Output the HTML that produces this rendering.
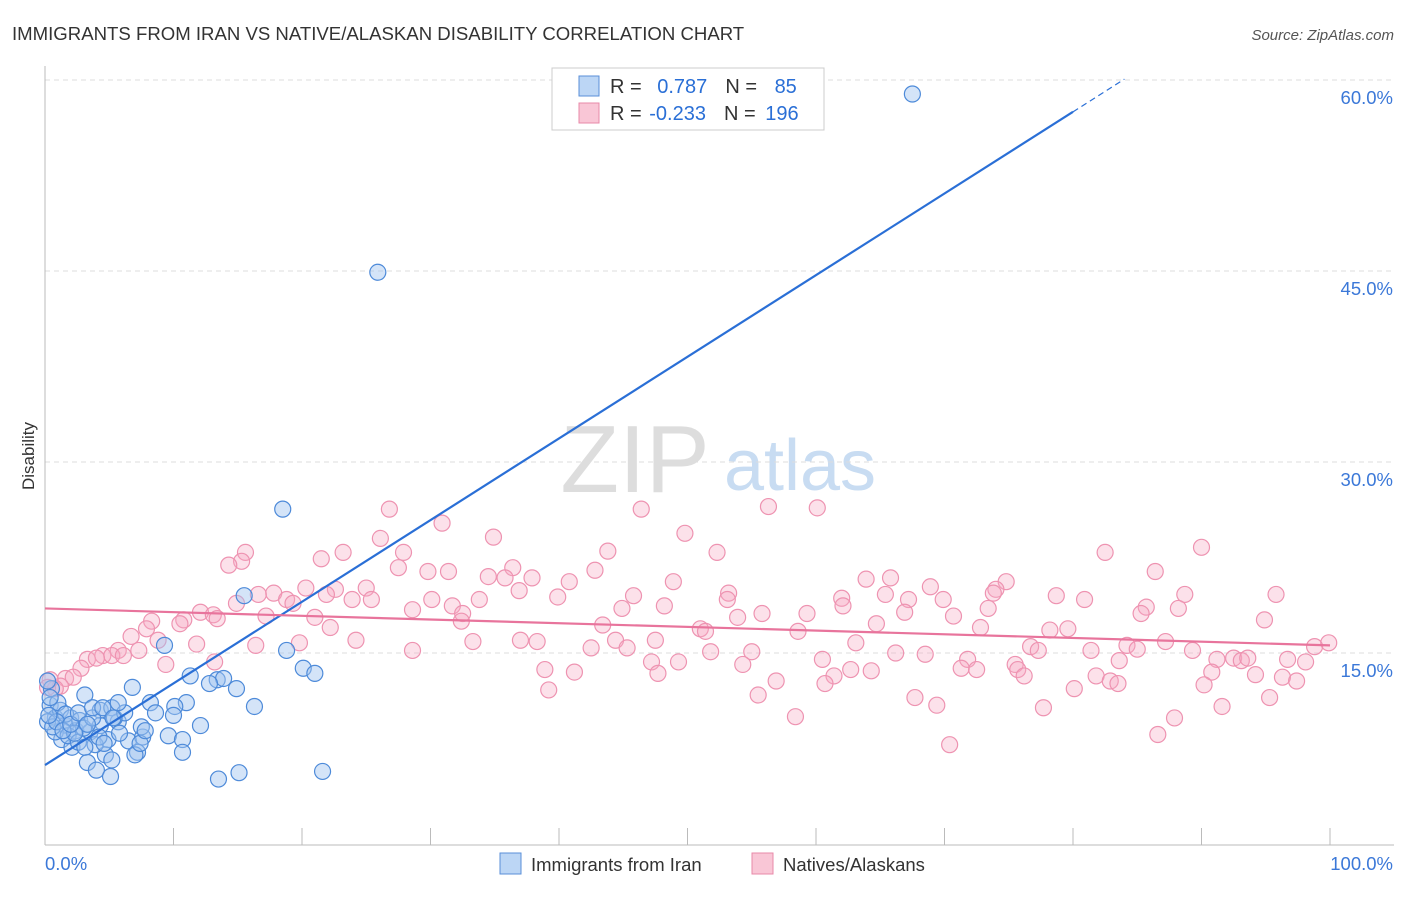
<!DOCTYPE html>
<html><head><meta charset="utf-8"><style>
body{margin:0;background:#fff;font-family:"Liberation Sans",sans-serif;}
svg text{font-family:"Liberation Sans",sans-serif;}
</style></head><body>
<svg id="chart" width="1406" height="892" xmlns="http://www.w3.org/2000/svg">
<text x="12" y="40" font-size="18.6" fill="#333">IMMIGRANTS FROM IRAN VS NATIVE/ALASKAN DISABILITY CORRELATION CHART</text>
<text x="1394" y="40" font-size="15" fill="#555" font-style="italic" text-anchor="end">Source: ZipAtlas.com</text>
<text transform="translate(34,456) rotate(-90)" font-size="17" fill="#333" text-anchor="middle">Disability</text>
<g><text x="635" y="492" font-size="96" fill="#ddd" font-family="Liberation Serif,serif" text-anchor="middle">ZIP</text><text x="800" y="490" font-size="72" fill="#c8dcf2" text-anchor="middle">atlas</text></g>
<g id="grid"></g><g id="axes"></g><g id="pink"></g><g id="blue"></g><g id="lines"></g>
<g>
<rect x="552" y="68" width="272" height="62" fill="#fff" stroke="#ccc"/>
<rect x="579" y="76" width="20" height="20" fill="#bcd6f5" stroke="#5a8fd8"/>
<rect x="579" y="103" width="20" height="20" fill="#f9c6d6" stroke="#e889a8"/>
<text x="610" y="93" font-size="20" fill="#333">R = <tspan fill="#2a6fd6" dx="10">0.787</tspan><tspan dx="18" fill="#333">N = </tspan><tspan fill="#2a6fd6" dx="12">85</tspan></text>
<text x="610" y="120" font-size="20" fill="#333">R = <tspan fill="#2a6fd6" dx="2">-0.233</tspan><tspan dx="18" fill="#333">N = </tspan><tspan fill="#2a6fd6" dx="4">196</tspan></text>
</g>
<g>
<rect x="500" y="853" width="21" height="21" fill="#bcd6f5" stroke="#5a8fd8"/>
<text x="531" y="871" font-size="18.5" fill="#333">Immigrants from Iran</text>
<rect x="752" y="853" width="21" height="21" fill="#f9c6d6" stroke="#e889a8"/>
<text x="783" y="871" font-size="18.5" fill="#333">Natives/Alaskans</text>
</g>
</svg>
<script>
const yTicks=[15,30,45,60];
const yTickLabels=["15.0%","30.0%","45.0%","60.0%"];
const xTickLabels=["0.0%","100.0%"];
const blueX=[67.5,25.9,18.5,15.5,9.3,18.8,20.1,21.0,6.8,11.3,13.4,13.9,14.9,12.8,8.2,11.0,16.3,10.1,8.6,10.0,12.1,3.1,4.3,5.2,5.7,6.5,7.6,7.5,9.6,10.7,10.7,7.2,7.0,4.9,4.7,3.3,4.0,5.2,5.1,13.5,15.1,21.6,0.4,0.8,1.2,1.6,2.0,2.4,2.7,3.5,3.9,1.3,2.1,4.3,0.8,0.2,0.5,0.2,1.0,1.8,2.6,3.0,3.7,4.2,4.6,5.4,5.8,6.2,7.4,7.8,3.1,2.3,1.6,0.6,0.9,1.4,2.0,2.6,3.3,3.7,4.5,5.3,5.7,0.3,0.4];
const blueY=[58.9,44.9,26.3,19.5,15.6,15.2,13.8,13.4,12.3,13.2,12.9,13.0,12.2,12.6,11.1,11.1,10.8,10.8,10.3,10.1,9.3,11.7,10.5,10.7,9.6,8.1,8.4,9.2,8.5,8.2,7.2,7.2,7.0,8.2,7.0,6.4,5.8,6.6,5.3,5.1,5.6,5.7,10.9,9.9,10.5,9.3,9.9,8.9,9.7,8.8,7.8,8.2,7.6,9.3,8.8,9.6,12.2,12.8,11.1,8.5,8.0,9.1,9.9,8.4,7.9,9.9,8.7,10.3,7.9,8.9,7.6,8.7,10.2,9.2,9.6,8.9,9.4,10.3,9.4,10.7,10.7,9.9,11.1,10.1,11.5];
const pinkX=[26.8,46.4,56.3,60.1,30.9,49.8,34.9,26.1,90.0,82.5,15.6,23.2,27.9,43.8,52.3,21.5,15.3,14.3,36.4,27.5,29.8,31.4,42.8,86.4,34.5,35.8,37.9,63.9,65.8,74.8,40.8,48.9,68.9,74.0,20.3,22.6,25.0,17.8,16.6,21.9,36.9,53.2,73.8,65.4,88.7,95.8,78.7,80.9,39.9,45.8,53.1,62.0,67.2,69.9,18.8,23.9,25.4,30.1,14.9,19.3,33.8,31.7,48.2,62.1,88.2,85.7,73.4,12.1,13.1,28.6,44.9,85.3,66.9,55.8,59.3,32.5,10.8,13.4,17.2,21.0,53.9,70.7,8.3,32.4,94.9,10.5,7.9,22.2,43.4,64.7,72.8,51.0,51.4,58.6,78.2,79.6,6.7,8.8,24.2,33.3,37.0,38.3,44.4,47.5,63.1,76.7,84.2,87.2,99.9,98.8,5.7,11.8,16.4,19.8,28.6,42.5,45.3,51.8,55.0,66.2,68.5,77.3,81.4,85.0,89.3,4.5,5.2,6.1,7.3,3.3,4.0,91.2,92.5,93.1,93.6,96.7,98.1,9.4,13.2,47.2,49.3,54.3,60.5,71.8,75.5,83.6,2.8,38.9,41.2,47.7,62.7,64.3,71.3,72.5,90.8,75.7,81.8,94.2,96.3,1.6,2.2,97.4,76.2,56.9,61.4,60.7,82.9,83.5,90.2,1.2,0.8,39.2,80.1,55.5,67.7,95.3,69.4,91.6,77.7,58.4,87.9,86.6,70.4,0.4,0.2];
const pinkY=[26.3,26.3,26.5,26.4,25.2,24.4,24.1,24.0,23.3,22.9,22.9,22.9,22.9,23.0,22.9,22.4,22.2,21.9,21.7,21.7,21.4,21.4,21.5,21.4,21.0,20.9,20.9,20.8,20.9,20.6,20.6,20.6,20.2,20.0,20.1,20.0,20.1,19.7,19.6,19.6,19.9,19.7,19.7,19.6,19.6,19.6,19.5,19.2,19.4,19.5,19.2,19.3,19.2,19.2,19.2,19.2,19.2,19.2,18.9,18.9,19.2,18.7,18.7,18.7,18.5,18.6,18.5,18.2,18.0,18.4,18.5,18.1,18.2,18.1,18.1,18.1,17.6,17.7,17.9,17.8,17.8,17.9,17.5,17.5,17.6,17.3,16.9,17.0,17.2,17.3,17.0,16.9,16.7,16.7,16.8,16.9,16.3,16.0,16.0,15.9,16.0,15.9,16.0,16.0,15.8,15.5,15.6,15.9,15.8,15.5,15.2,15.7,15.6,15.8,15.2,15.4,15.4,15.1,15.1,15.0,14.9,15.2,15.2,15.3,15.2,14.8,14.8,14.8,15.2,14.5,14.6,14.5,14.6,14.4,14.6,14.5,14.3,14.1,14.3,14.3,14.3,14.1,14.5,14.5,14.1,14.4,13.8,13.7,13.5,13.4,13.7,13.6,13.8,13.7,13.5,13.7,13.2,13.3,13.1,13.0,13.1,12.8,13.2,12.8,13.2,12.6,12.8,12.6,12.5,12.4,12.2,12.1,12.2,11.7,11.5,11.5,10.9,10.8,10.7,10.0,9.9,8.6,7.8,12.9,12.3];
const blueTrend=[0,6.2,80,57.5];
const pinkTrend=[0,18.5,100,15.6];

const L=45,R=1330,T=80,B=844;
const xs=v=>L+(R-L)*v/100;
const ys=v=>B-(B-T)*v/60;
const NS="http://www.w3.org/2000/svg";
function mk(tag,parent,attrs){const e=document.createElementNS(NS,tag);for(const k in attrs)e.setAttribute(k,attrs[k]);document.getElementById(parent).appendChild(e);return e;}
yTicks.forEach((t,i)=>{
 const g=mk('line','grid',{x1:L,x2:1394,y1:ys(t),y2:ys(t),stroke:'#ddd','stroke-dasharray':'5,4'});
 
 
 const tx=mk('text','axes',{x:1393,y:ys(t)+24,'font-size':18.5,fill:'#3b78d8','text-anchor':'end'});
 tx.textContent=yTickLabels[i];
 
 
});
const ax=mk('line','axes',{x1:L,x2:1394,y1:B+1,y2:B+1,stroke:'#bbb'});


const ay=mk('line','axes',{x1:L,x2:L,y1:66,y2:B+1,stroke:'#bbb'});


for(let i=1;i<=10;i++){const t=mk('line','axes',{x1:xs(i*10),x2:xs(i*10),y1:B+1,y2:B-16,stroke:'#bbb'});
 
 }
const xl0=mk('text','axes',{x:45,y:870,'font-size':18.5,fill:'#3b78d8'});xl0.textContent=xTickLabels[0];


const xl1=mk('text','axes',{x:1393,y:870,'font-size':18.5,fill:'#3b78d8','text-anchor':'end'});xl1.textContent=xTickLabels[1];


pinkX.forEach((x,i)=>{const c=mk('circle','pink',{cx:xs(x),cy:ys(pinkY[i]),r:8,fill:'rgba(246,170,195,0.35)',stroke:'#ee93b1','stroke-width':1.2});
 
 });
blueX.forEach((x,i)=>{const c=mk('circle','blue',{cx:xs(x),cy:ys(blueY[i]),r:8,fill:'rgba(160,196,240,0.45)',stroke:'#4d8ad9','stroke-width':1.2});
 
 });
const bl=mk('line','lines',{x1:xs(blueTrend[0]),y1:ys(blueTrend[1]),x2:xs(blueTrend[2]),y2:ys(blueTrend[3]),stroke:'#2a6fd6','stroke-width':2.2});


const slope=(blueTrend[3]-blueTrend[1])/(blueTrend[2]-blueTrend[0]);
const bd=mk('line','lines',{x1:xs(blueTrend[2]),y1:ys(blueTrend[3]),x2:xs(84),y2:ys(blueTrend[3]+slope*4),stroke:'#2a6fd6','stroke-width':1.2,'stroke-dasharray':'6,4'});


const pl=mk('line','lines',{x1:xs(pinkTrend[0]),y1:ys(pinkTrend[1]),x2:xs(pinkTrend[2]),y2:ys(pinkTrend[3]),stroke:'#e8749c','stroke-width':2.2});


</script>
</body></html>
